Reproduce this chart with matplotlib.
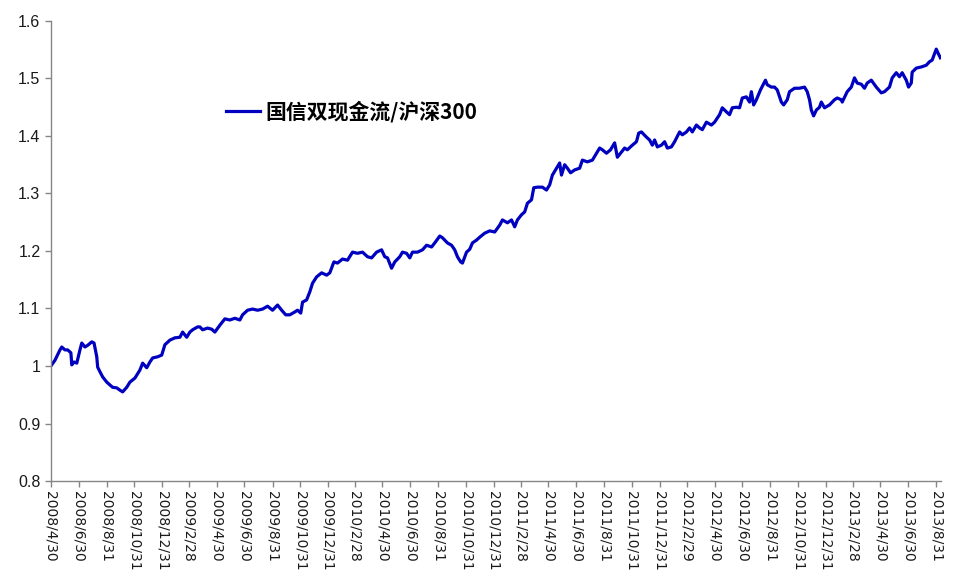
import pandas as pd
import matplotlib
matplotlib.use("Agg")
import matplotlib.pyplot as plt

series_name = "国信双现金流/沪深300"

dates = [
    "2008-04-30", "2008-05-09", "2008-05-20", "2008-05-24", "2008-05-31", "2008-06-06", "2008-06-13",
    "2008-06-15", "2008-06-20", "2008-06-26", "2008-07-03", "2008-07-07", "2008-07-14", "2008-07-20",
    "2008-07-29", "2008-08-03", "2008-08-09", "2008-08-11", "2008-08-16", "2008-08-22", "2008-08-31",
    "2008-09-07", "2008-09-13", "2008-09-22", "2008-09-29", "2008-10-05", "2008-10-14", "2008-10-21",
    "2008-11-01", "2008-11-12", "2008-11-18", "2008-11-27", "2008-12-04", "2008-12-10", "2008-12-21",
    "2008-12-30", "2009-01-06", "2009-01-17", "2009-01-28", "2009-02-08", "2009-02-14", "2009-02-23",
    "2009-03-02", "2009-03-08", "2009-03-19", "2009-03-24", "2009-03-30", "2009-04-10", "2009-04-19",
    "2009-04-26", "2009-05-07", "2009-05-18", "2009-05-29", "2009-06-09", "2009-06-20", "2009-06-26",
    "2009-07-07", "2009-07-18", "2009-07-29", "2009-08-09", "2009-08-20", "2009-08-31", "2009-09-11",
    "2009-09-20", "2009-09-29", "2009-10-08", "2009-10-19", "2009-10-25", "2009-11-01", "2009-11-05",
    "2009-11-14", "2009-11-21", "2009-11-27", "2009-12-06", "2009-12-17", "2009-12-28", "2010-01-04",
    "2010-01-13", "2010-01-21", "2010-02-01", "2010-02-12", "2010-02-23", "2010-03-06", "2010-03-17",
    "2010-03-28", "2010-04-06", "2010-04-17", "2010-04-28", "2010-05-05", "2010-05-11", "2010-05-20",
    "2010-05-27", "2010-06-07", "2010-06-13", "2010-06-22", "2010-06-29", "2010-07-05", "2010-07-16",
    "2010-07-27", "2010-08-05", "2010-08-16", "2010-08-23", "2010-09-03", "2010-09-09", "2010-09-20",
    "2010-09-29", "2010-10-06", "2010-10-12", "2010-10-19", "2010-10-23", "2010-11-01", "2010-11-08",
    "2010-11-14", "2010-11-23", "2010-11-30", "2010-12-11", "2010-12-22", "2011-01-02", "2011-01-13",
    "2011-01-19", "2011-01-30", "2011-02-08", "2011-02-15", "2011-02-21", "2011-03-02", "2011-03-09",
    "2011-03-15", "2011-03-24", "2011-03-29", "2011-04-06", "2011-04-17", "2011-04-26", "2011-05-03",
    "2011-05-09", "2011-05-18", "2011-05-25", "2011-05-29", "2011-06-05", "2011-06-11", "2011-06-18",
    "2011-06-27", "2011-07-08", "2011-07-14", "2011-07-25", "2011-08-05", "2011-08-14", "2011-08-21",
    "2011-08-27", "2011-09-05", "2011-09-14", "2011-09-23", "2011-09-29", "2011-10-08", "2011-10-15",
    "2011-10-21", "2011-11-01", "2011-11-10", "2011-11-15", "2011-11-21", "2011-12-02", "2011-12-09",
    "2011-12-15", "2011-12-20", "2011-12-26", "2012-01-04", "2012-01-11", "2012-01-17", "2012-01-26",
    "2012-02-02", "2012-02-13", "2012-02-19", "2012-02-28", "2012-03-06", "2012-03-12", "2012-03-21",
    "2012-03-28", "2012-04-03", "2012-04-12", "2012-04-23", "2012-04-30", "2012-05-11", "2012-05-17",
    "2012-05-26", "2012-06-02", "2012-06-08", "2012-06-17", "2012-06-24", "2012-06-30", "2012-07-09",
    "2012-07-16", "2012-07-20", "2012-07-25", "2012-07-31", "2012-08-09", "2012-08-20", "2012-08-24",
    "2012-09-02", "2012-09-09", "2012-09-15", "2012-09-24", "2012-09-29", "2012-10-07", "2012-10-12",
    "2012-10-23", "2012-11-03", "2012-11-14", "2012-11-20", "2012-11-25", "2012-11-29", "2012-12-04",
    "2012-12-10", "2012-12-17", "2012-12-21", "2012-12-28", "2013-01-08", "2013-01-19", "2013-01-25",
    "2013-02-03", "2013-02-05", "2013-02-16", "2013-02-25", "2013-03-04", "2013-03-10", "2013-03-19",
    "2013-03-26", "2013-04-01", "2013-04-10", "2013-04-21", "2013-05-02", "2013-05-09", "2013-05-20",
    "2013-05-26", "2013-06-04", "2013-06-11", "2013-06-17", "2013-06-26", "2013-07-01", "2013-07-07",
    "2013-07-09", "2013-07-18", "2013-07-29", "2013-08-09", "2013-08-16", "2013-08-22", "2013-08-31",
    "2013-09-04", "2013-09-09",
]

values = [
    1.000, 1.010, 1.028, 1.033, 1.028, 1.028, 1.023,
    1.002, 1.007, 1.005, 1.028, 1.040, 1.033, 1.036,
    1.042, 1.040, 1.016, 0.998, 0.990, 0.981, 0.972,
    0.967, 0.963, 0.962, 0.958, 0.955, 0.963, 0.972,
    0.979, 0.993, 1.005, 0.997, 1.007, 1.014, 1.016,
    1.019, 1.037, 1.045, 1.049, 1.050, 1.059, 1.050,
    1.059, 1.063, 1.068, 1.068, 1.063, 1.066, 1.064,
    1.059, 1.071, 1.082, 1.080, 1.083, 1.080, 1.089,
    1.097, 1.099, 1.097, 1.099, 1.104, 1.097, 1.106,
    1.097, 1.089, 1.089, 1.094, 1.097, 1.092, 1.111,
    1.115, 1.129, 1.144, 1.155, 1.162, 1.158, 1.162,
    1.181, 1.179, 1.186, 1.184, 1.198, 1.196, 1.198,
    1.190, 1.188, 1.198, 1.202, 1.190, 1.188, 1.170,
    1.181, 1.190, 1.198, 1.196, 1.188, 1.198, 1.198,
    1.202, 1.210, 1.207, 1.214, 1.226, 1.223, 1.214,
    1.210, 1.202, 1.190, 1.181, 1.179, 1.198, 1.203,
    1.214, 1.219, 1.224, 1.231, 1.235, 1.233, 1.245,
    1.254, 1.249, 1.254, 1.242, 1.254, 1.263, 1.268,
    1.283, 1.289, 1.310, 1.311, 1.311, 1.306, 1.315,
    1.332, 1.344, 1.353, 1.332, 1.350, 1.344, 1.336,
    1.341, 1.344, 1.358, 1.355, 1.358, 1.370, 1.379,
    1.376, 1.370, 1.376, 1.388, 1.363, 1.372, 1.379,
    1.376, 1.384, 1.390, 1.405, 1.407, 1.398, 1.393,
    1.384, 1.393, 1.381, 1.384, 1.390, 1.379, 1.381,
    1.390, 1.407, 1.402, 1.407, 1.414, 1.407, 1.419,
    1.414, 1.411, 1.424, 1.419, 1.424, 1.437, 1.449,
    1.442, 1.437, 1.449, 1.450, 1.449, 1.466, 1.468,
    1.459, 1.477, 1.454, 1.463, 1.480, 1.497, 1.489,
    1.485, 1.485, 1.480, 1.459, 1.454, 1.463, 1.477,
    1.483, 1.483, 1.485, 1.477, 1.463, 1.445, 1.435,
    1.445, 1.450, 1.459, 1.449, 1.454, 1.463, 1.466,
    1.463, 1.459, 1.477, 1.485, 1.501, 1.492, 1.490,
    1.483, 1.492, 1.497, 1.485, 1.475, 1.477, 1.485,
    1.501, 1.510, 1.503, 1.510, 1.497, 1.485, 1.492,
    1.511, 1.518, 1.520, 1.523, 1.529, 1.532, 1.551,
    1.544, 1.536,
]

# x tick labels: every two months, at month end
tick_dates = pd.date_range("2008-04-30", "2013-08-31", freq="2ME")
tick_labels = [f"{d.year}/{d.month}/{d.day}" for d in tick_dates]

plt.rcParams['font.family'] = ['Liberation Sans', 'Noto Sans CJK SC']

fig = plt.figure(figsize=(9.6, 5.82), dpi=100)
ax = fig.add_axes([0.053, 0.1735, 0.927, 0.7905])

ax.plot(pd.to_datetime(dates), values, color="#0000C0", lw=2.3, label=series_name)

ax.set_ylim(0.8, 1.6)
ax.set_yticks([0.8, 0.9, 1.0, 1.1, 1.2, 1.3, 1.4, 1.5, 1.6])
ax.set_yticklabels(["0.8", "0.9", "1", "1.1", "1.2", "1.3", "1.4", "1.5", "1.6"])
ax.set_xlim(pd.Timestamp("2008-04-30"), pd.Timestamp("2013-09-10"))
ax.set_xticks(tick_dates)
ax.set_xticklabels(tick_labels, rotation=270, va="top", ha="center",
                   family="DejaVu Sans", fontsize=10)

for s in ["top", "right"]:
    ax.spines[s].set_visible(False)
for s in ["left", "bottom"]:
    ax.spines[s].set_color("#868686")
    ax.spines[s].set_linewidth(1.0)
ax.tick_params(axis="both", direction="out", length=4, width=1, color="#868686",
               labelcolor="#1a1a1a")
ax.tick_params(axis="y", labelsize=11.5)
ax.tick_params(axis="x", pad=3)

leg = ax.legend(loc="center left", bbox_to_anchor=(0.197, 0.804), frameon=False,
                borderpad=0, borderaxespad=0, handlelength=1.6, handletextpad=0.3,
                prop={"family": "Noto Sans CJK SC", "weight": "bold", "size": 15})

fig.savefig("out.png", dpi=100)
